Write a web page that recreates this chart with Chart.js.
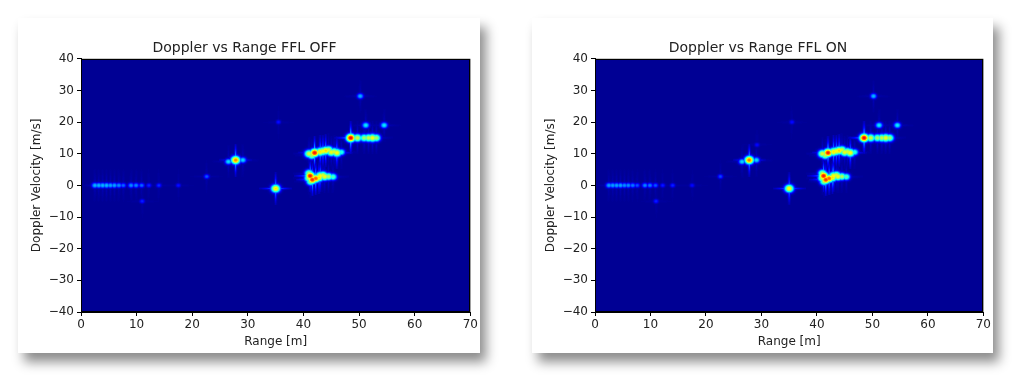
<!DOCTYPE html>
<html>
<head>
<meta charset="utf-8">
<script src="https://cdn.jsdelivr.net/npm/chart.js@4.4.1/dist/chart.umd.min.js"></script>
<style>
    body { margin: 0; background: #fff; width: 1030px; height: 391px; overflow: hidden; position: relative; }
    .card { position: absolute; top: 18px; height: 335px; background: #fff; box-shadow: 6px 9px 11px rgba(0,0,0,0.45); }
</style>
</head>
<body>
<div class="card" style="left:18px;width:462px"><canvas id="chartOff" width="462" height="335"></canvas></div>
<div class="card" style="left:532px;width:461px"><canvas id="chartOn" width="461" height="335"></canvas></div>
<script>
// axis ticks
const rangeTicks = [0, 10, 20, 30, 40, 50, 60, 70];
const dopplerTicks = [-40, -30, -20, -10, 0, 10, 20, 30, 40];

// FFL OFF detections: range [m], doppler [m/s], peak level (0..1 of colour map)
const offRange   = [2.5, 3.2, 3.9, 4.6, 5.3, 6.0, 6.8, 7.6, 9.0, 9.9, 10.9, 12.2, 14.0, 17.5, 11.0, 22.6, 35.5,
                    26.5, 27.8, 29.1, 35.0,
                    41.0, 41.2, 41.6, 42.2, 43.0, 43.8, 44.5, 45.3, 41.0, 41.3, 42.8, 43.5,
                    41.0, 42.0, 43.0, 44.0, 45.0, 46.0, 46.8, 41.5, 43.5, 44.5, 45.5,
                    48.5, 49.7, 50.9, 51.7, 52.4, 53.1,
                    50.2, 51.2, 54.5];
const offDoppler = [0, 0, 0, 0, 0, 0, 0, 0, 0, 0, 0, 0, 0, 0, -5, 2.8, 20,
                    7.5, 8, 8, -1,
                    2.3, 3, 1.8, 2.2, 3, 2.8, 2.8, 2.7, 3.8, 1.2, 2.5, 3.2,
                    10, 10.3, 10.6, 11, 10.5, 10.3, 10.5, 9.5, 10.8, 11.2, 10.6,
                    15, 15, 15, 15, 15, 15,
                    28.2, 19, 19];
const offLevel   = [0.3, 0.3, 0.3, 0.3, 0.28, 0.28, 0.26, 0.22, 0.26, 0.25, 0.22, 0.15, 0.16, 0.13, 0.15, 0.2, 0.13,
                    0.34, 0.76, 0.34, 0.66,
                    0.6, 0.88, 0.85, 0.8, 0.64, 0.62, 0.55, 0.46, 0.56, 0.55, 0.66, 0.6,
                    0.6, 0.88, 0.66, 0.68, 0.62, 0.64, 0.42, 0.56, 0.64, 0.6, 0.6,
                    0.9, 0.58, 0.54, 0.58, 0.62, 0.54,
                    0.3, 0.36, 0.36];

// FFL ON detections
const onRange    = [2.5, 3.2, 3.9, 4.6, 5.3, 6.0, 6.8, 7.6, 9.0, 9.9, 10.9, 12.2, 14.0, 17.5, 11.0, 22.6, 35.5, 29.2,
                    26.5, 27.8, 29.1, 35.0,
                    41.0, 41.2, 41.6, 42.2, 43.0, 43.8, 44.5, 45.3, 41.0, 41.3, 42.8, 43.5,
                    41.0, 42.0, 43.0, 44.0, 45.0, 46.0, 46.8, 41.5, 43.5, 44.5, 45.5,
                    48.5, 49.7, 50.9, 51.7, 52.4, 53.1,
                    50.2, 51.2, 54.5];
const onDoppler  = [0, 0, 0, 0, 0, 0, 0, 0, 0, 0, 0, 0, 0, 0, -5, 2.8, 20, 12.8,
                    7.5, 8, 8, -1,
                    2.3, 3, 1.8, 2.2, 3, 2.8, 2.8, 2.7, 3.8, 1.2, 2.5, 3.2,
                    10, 10.3, 10.6, 11, 10.5, 10.3, 10.5, 9.5, 10.8, 11.2, 10.6,
                    15, 15, 15, 15, 15, 15,
                    28.2, 19, 19];
const onLevel    = [0.28, 0.28, 0.28, 0.28, 0.26, 0.26, 0.24, 0.2, 0.25, 0.24, 0.2, 0.14, 0.15, 0.12, 0.15, 0.18, 0.13, 0.12,
                    0.34, 0.78, 0.34, 0.64,
                    0.6, 0.88, 0.85, 0.8, 0.64, 0.62, 0.55, 0.46, 0.56, 0.55, 0.66, 0.6,
                    0.6, 0.88, 0.66, 0.68, 0.62, 0.64, 0.42, 0.56, 0.64, 0.6, 0.6,
                    0.9, 0.58, 0.54, 0.58, 0.62, 0.54,
                    0.3, 0.36, 0.36];

const FONT = "'DejaVu Sans', sans-serif";
const TXT = '#222';

function clamp(v) { return Math.max(0, Math.min(1, v)); }
function jet(v) {
    return [clamp(1.5 - Math.abs(4 * v - 3)), clamp(1.5 - Math.abs(4 * v - 2)), clamp(1.5 - Math.abs(4 * v - 1))];
}
const jetLut = [];
for (let i = 0; i < 256; i++) {
    const c = jet(0.02 + i / 255 * 0.96);
    jetLut.push([c[0] * 255, c[1] * 255, c[2] * 255]);
}

// grey sprite for one peak: brightness = level, coloured later with the jet map
const spriteCache = {};
function blobSprite(level) {
    const key = level.toFixed(2);
    if (spriteCache[key]) return spriteCache[key];
    const R = 16, size = 2 * R + 1;
    const sx = Math.min(1.3 + 3.2 * level, 3.3), sy = Math.min(1.1 + 2.8 * level, 2.9);
    const lobe = level > 0.62 ? 0.42 * level : 0.12 * level;
    const cv = document.createElement('canvas');
    cv.width = cv.height = size;
    const g = cv.getContext('2d');
    const img = g.createImageData(size, size);
    for (let y = 0; y < size; y++) {
        for (let x = 0; x < size; x++) {
            const dx = x - R, dy = y - R;
            const q = (dx * dx) / (2 * sx * sx) + (dy * dy) / (2 * sy * sy);
            let v = level * Math.exp(-Math.pow(q, 1.25));
            v = Math.max(v, lobe * Math.exp(-dx * dx / 1.0) * Math.exp(-dy * dy / (2 * 64)));
            v = Math.max(v, lobe * 0.8 * Math.exp(-dy * dy / 1.0) * Math.exp(-dx * dx / (2 * 64)));
            const i = (y * size + x) * 4;
            const gv = Math.round(v * 255);
            img.data[i] = gv; img.data[i + 1] = gv; img.data[i + 2] = gv; img.data[i + 3] = 255;
        }
    }
    g.putImageData(img, 0, 0);
    spriteCache[key] = cv;
    return cv;
}

// peaks are drawn as grey with "lighten" (max), then the area is recoloured with jet
const heatmap = {
    id: 'heatmap',
    beforeDatasetsDraw(chart) {
        const a = chart.chartArea, ctx = chart.ctx;
        ctx.save();
        ctx.fillStyle = '#000';
        ctx.fillRect(a.left, a.top, a.right - a.left, a.bottom - a.top);
        ctx.globalCompositeOperation = 'lighten';
    },
    afterDatasetsDraw(chart) {
        const a = chart.chartArea, ctx = chart.ctx;
        ctx.restore();
        const x0 = Math.round(a.left), y0 = Math.round(a.top);
        const w = Math.round(a.right) - x0, h = Math.round(a.bottom) - y0;
        const img = ctx.getImageData(x0, y0, w, h);
        const d = img.data;
        for (let i = 0; i < d.length; i += 4) {
            const c = jetLut[d[i]];
            d[i] = c[0]; d[i + 1] = c[1]; d[i + 2] = c[2]; d[i + 3] = 255;
        }
        ctx.putImageData(img, x0, y0);
        ctx.save();
        ctx.strokeStyle = '#000';
        ctx.lineWidth = 1;
        ctx.strokeRect(x0 + 0.5, y0 + 0.5, w - 1, h - 1);
        ctx.restore();
    }
};

function makeChart(id, title, ranges, dopplers, levels) {
    const pts = ranges.map((r, i) => ({ x: r, y: dopplers[i], lvl: levels[i] }));
    const minus = v => String(v).replace('-', '\u2212');
    return new Chart(document.getElementById(id), {
        type: 'scatter',
        data: {
            datasets: [{
                data: pts,
                pointRadius: 1,
                pointStyle: ctx => blobSprite(ctx.raw ? ctx.raw.lvl : 0.3)
            }]
        },
        options: {
            responsive: false,
            animation: false,
            events: [],
            layout: { padding: { left: 0, right: 9, top: 0, bottom: 0 } },
            plugins: {
                legend: { display: false },
                tooltip: { enabled: false },
                title: {
                    display: true, text: title, color: TXT,
                    font: { family: FONT, size: 14, weight: 'normal' },
                    padding: { top: 22, bottom: 2 }
                }
            },
            scales: {
                x: {
                    type: 'linear', min: 0, max: 70,
                    afterBuildTicks: s => { s.ticks = rangeTicks.map(v => ({ value: v })); },
                    afterFit: s => { s.height = 41; },
                    grid: { drawOnChartArea: false, tickLength: 4, color: '#000' },
                    border: { display: true, color: '#000' },
                    ticks: { color: TXT, padding: 2, maxRotation: 0, font: { family: FONT, size: 12 }, callback: minus },
                    title: { display: true, text: 'Range [m]', color: TXT, font: { family: FONT, size: 12 }, padding: { top: 0, bottom: 4 } }
                },
                y: {
                    type: 'linear', min: -40, max: 40,
                    afterBuildTicks: s => { s.ticks = dopplerTicks.map(v => ({ value: v })); },
                    afterFit: s => { s.width = 63; },
                    grid: { drawOnChartArea: false, tickLength: 4, color: '#000' },
                    border: { display: true, color: '#000' },
                    ticks: { color: TXT, padding: 3, font: { family: FONT, size: 12 }, callback: minus },
                    title: { display: true, text: 'Doppler Velocity [m/s]', color: TXT, font: { family: FONT, size: 12 }, padding: { top: 12, bottom: 0 } }
                }
            }
        },
        plugins: [heatmap]
    });
}

makeChart('chartOff', 'Doppler vs Range FFL OFF', offRange, offDoppler, offLevel);
makeChart('chartOn', 'Doppler vs Range FFL ON', onRange, onDoppler, onLevel);
</script>
</body>
</html>
